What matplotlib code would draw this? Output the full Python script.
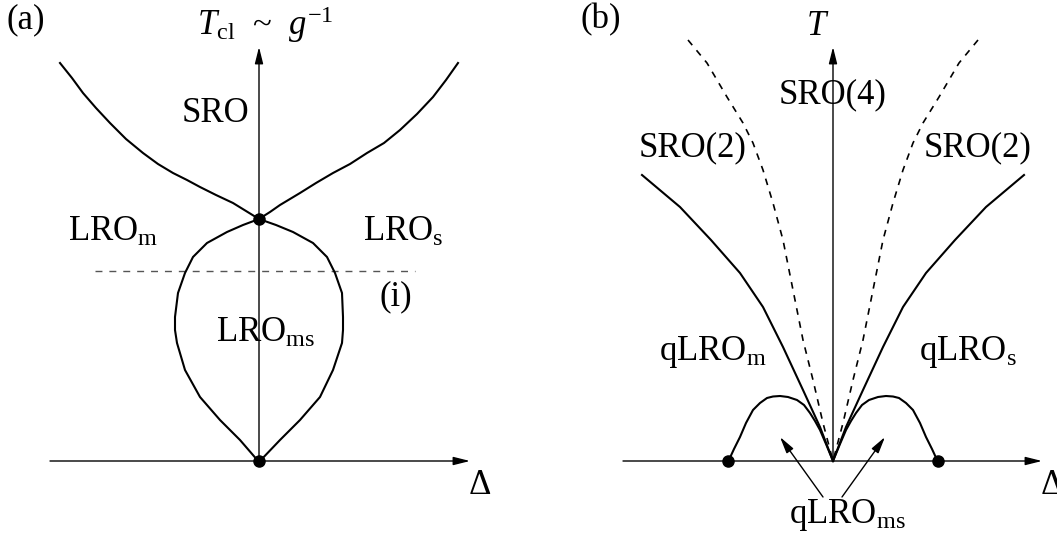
import numpy as np
import matplotlib
matplotlib.use("Agg")
import matplotlib.pyplot as plt

plt.rcParams['font.family'] = ['Liberation Serif', 'DejaVu Serif']
plt.rcParams['mathtext.fontset'] = 'custom'
plt.rcParams['mathtext.rm'] = 'Liberation Serif'
plt.rcParams['mathtext.it'] = 'Liberation Serif:italic'

#################### panel (a) curves (pixel-like units, y down) ####################
a_upper_left_x = [60, 72, 83, 96, 110, 126, 143, 158, 173, 187, 200, 216, 233, 246, 259]
a_upper_left_y = [63, 78, 93, 108, 123, 139, 153, 164, 173, 180, 187, 195, 203, 211, 219]
a_upper_right_x = [458, 446, 433, 417, 400, 384, 367, 350, 333, 316, 300, 290, 280, 270, 259]
a_upper_right_y = [63, 80, 97, 114, 130, 143, 153, 164, 173, 183, 193, 199, 205, 212, 219]
a_loop_left_x = [259, 243, 227, 207, 193, 185, 178, 175, 175, 177, 185, 200, 220, 240, 259]
a_loop_left_y = [219, 225, 232, 243, 257, 273, 293, 317, 330, 343, 370, 397, 420, 440, 462]
a_loop_right_x = [259, 276, 293, 313, 327, 335, 342, 343, 343, 342, 333, 320, 300, 280, 259]
a_loop_right_y = [219, 225, 232, 243, 257, 273, 293, 317, 330, 343, 370, 397, 420, 440, 462]
a_dots_x = [259, 259]
a_dots_y = [219, 461]

#################### panel (b) curves ####################
b_dash_left_x = [688, 707, 727, 743, 753, 763, 773, 783, 793, 803, 813, 823, 833]
b_dash_left_y = [40, 63, 97, 123, 143, 170, 203, 240, 290, 340, 380, 423, 461]
b_dash_right_x = [978, 959, 939, 923, 913, 903, 893, 883, 873, 863, 853, 843, 833]
b_dash_right_y = [40, 63, 97, 123, 143, 170, 203, 240, 290, 340, 380, 423, 461]
b_solid_left_x = [642, 680, 711, 740, 763, 783, 803, 820, 833]
b_solid_left_y = [175, 207, 240, 273, 307, 347, 390, 427, 461]
b_solid_right_x = [1024, 986, 955, 926, 903, 883, 863, 846, 833]
b_solid_right_y = [175, 207, 240, 273, 307, 347, 390, 427, 461]
b_dome_left_x = [728, 734, 740, 746, 753, 760, 767, 773, 780, 788, 797, 804, 810, 815, 820, 826, 833]
b_dome_left_y = [462, 449, 437, 423, 410, 403, 398, 396.5, 396, 397, 400, 405, 413, 421, 430, 444, 461]
b_dome_right_x = [833, 840, 846, 851, 856, 862, 869, 878, 886, 893, 899, 906, 913, 920, 926, 932, 938]
b_dome_right_y = [461, 444, 430, 421, 413, 405, 400, 397, 396, 396.5, 398, 403, 410, 423, 437, 449, 462]
b_dots_x = [728, 938]
b_dots_y = [461, 461]

fig = plt.figure(figsize=(10.57, 5.37), dpi=100)
ax = fig.add_axes([0, 0, 1, 1])
ax.set_xlim(0, 1057)
ax.set_ylim(537, 0)
ax.axis('off')

lw = 1.5
fs = 25

def arrow(x0, y0, x1, y1):
    ax.annotate('', xy=(x1, y1), xytext=(x0, y0),
                arrowprops=dict(arrowstyle='-|>,head_width=0.25,head_length=1.0',
                                color='black', lw=1.0, shrinkA=0, shrinkB=0))

# ---- panel (a)
arrow(259, 461, 259, 47)
arrow(50, 461, 470, 461)
ax.plot([95, 415], [271, 271], color='#555555', lw=1.0, dashes=(5, 5))
for xs, ys in [(a_upper_left_x, a_upper_left_y), (a_upper_right_x, a_upper_right_y),
               (a_loop_left_x, a_loop_left_y), (a_loop_right_x, a_loop_right_y)]:
    ax.plot(xs, ys, color='black', lw=lw, solid_joinstyle='round')
ax.plot(a_dots_x, a_dots_y, 'o', color='black', markersize=8)

ax.text(7, 20, '(a)', fontsize=fs, va='center', ha='left')
ax.text(197, 35, r'$T_{\mathrm{cl}}$  ~  $g^{-1}$', fontsize=fs, va='baseline', ha='left')
ax.text(215, 114, 'SRO', fontsize=fs, va='center', ha='center')
ax.text(68, 232, r'LRO$_{\mathrm{m}}$', fontsize=fs, va='center', ha='left')
ax.text(363, 232, r'LRO$_{\mathrm{s}}$', fontsize=fs, va='center', ha='left')
ax.text(396, 297, '(i)', fontsize=fs, va='center', ha='center')
ax.text(216, 333, r'LRO$_{\mathrm{ms}}$', fontsize=fs, va='center', ha='left')
ax.text(468, 486, r'$\Delta$', fontsize=fs, va='center', ha='left')

# ---- panel (b)
arrow(833, 461, 833, 47)
arrow(623, 461, 1042, 461)
for xs, ys in [(b_dash_left_x, b_dash_left_y), (b_dash_right_x, b_dash_right_y)]:
    ax.plot(xs, ys, color='black', lw=1.2, dashes=(4, 4))
for xs, ys in [(b_solid_left_x, b_solid_left_y), (b_solid_right_x, b_solid_right_y),
               (b_dome_left_x, b_dome_left_y), (b_dome_right_x, b_dome_right_y)]:
    ax.plot(xs, ys, color='black', lw=lw, solid_joinstyle='round')
ax.plot(b_dots_x, b_dots_y, 'o', color='black', markersize=8)
arrow(823, 497, 780, 437)
arrow(842, 497, 885, 437)

ax.text(581, 20, '(b)', fontsize=fs, va='center', ha='left')
ax.text(818, 35, r'$T$', fontsize=fs, va='baseline', ha='center')
ax.text(833, 95, 'SRO(4)', fontsize=fs, va='center', ha='center')
ax.text(693, 148, 'SRO(2)', fontsize=fs, va='center', ha='center')
ax.text(978, 148, 'SRO(2)', fontsize=fs, va='center', ha='center')
ax.text(659, 352, r'qLRO$_{\mathrm{m}}$', fontsize=fs, va='center', ha='left')
ax.text(919, 352, r'qLRO$_{\mathrm{s}}$', fontsize=fs, va='center', ha='left')
ax.text(789, 515, r'qLRO$_{\mathrm{ms}}$', fontsize=fs, va='center', ha='left')
ax.text(1040, 486, r'$\Delta$', fontsize=fs, va='center', ha='left')

fig.savefig('out.png', dpi=100)
